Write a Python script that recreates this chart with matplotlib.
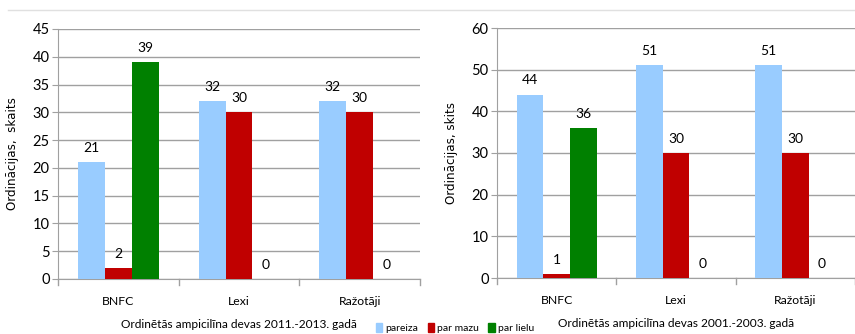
import matplotlib.pyplot as plt
from matplotlib.lines import Line2D
from matplotlib.patches import Patch
import numpy as np

categories = ["BNFC", "Lexi", "Ražotāji"]
series = ["pareiza", "par mazu", "par lielu"]
colors = ["#99CCFF", "#C00000", "#008000"]

vals_2011 = [[21, 32, 32], [2, 30, 30], [39, 0, 0]]
vals_2001 = [[44, 51, 51], [1, 30, 30], [36, 0, 0]]

xlabel_2011 = "Ordinētās ampicilīna devas 2011.-2013. gadā"
xlabel_2001 = "Ordinētās ampicilīna devas 2001.-2003. gadā"

plt.rcParams['font.family'] = ['Lato', 'DejaVu Sans']

fig = plt.figure(figsize=(8.55, 3.34), dpi=100)
ax1 = fig.add_axes([58/855, 55/334, 362/855, 250/334])
ax2 = fig.add_axes([497/855, 56/334, 358/855, 250/334])

grid_c = "#A0A0A0"
bw = 0.223

def draw(ax, vals, ymax, step, ylabel, xlabel):
    x = np.arange(len(categories))
    for i, (s, c) in enumerate(zip(series, colors)):
        pos = x + (i - 1) * bw
        ax.bar(pos, vals[i], bw, color=c, zorder=3, label=s)
        for p, v in zip(pos, vals[i]):
            ax.annotate(str(v), (p, v), xytext=(0, 6), textcoords="offset points",
                        ha="center", va="bottom", fontsize=10)
    ax.set_xlim(-0.5, len(categories) - 0.5)
    ax.set_ylim(0, ymax)
    ax.set_yticks(np.arange(0, ymax + 1, step))
    ax.yaxis.grid(True, color=grid_c, linewidth=1.0, zorder=0)
    ax.set_axisbelow(True)
    for s in ["top", "right"]:
        ax.spines[s].set_visible(False)
    for s in ["left", "bottom"]:
        ax.spines[s].set_color(grid_c)
    ax.set_xticks(x)
    ax.set_xticklabels(categories, fontsize=8.8)
    ax.tick_params(axis="x", length=0, pad=12)
    ax.tick_params(axis="y", length=4, color=grid_c, labelsize=10.5, pad=2)
    # category boundary ticks
    for b in np.arange(-0.5, len(categories), 1.0):
        ax.plot([b, b], [0, -0.025 * ymax], color=grid_c, lw=1, clip_on=False)
    ax.set_ylabel(ylabel, fontsize=8.6, family=["DejaVu Sans"], labelpad=10)
    ax.set_xlabel(xlabel, fontsize=8.6, labelpad=9)

draw(ax1, vals_2011, 45, 5, "Ordinācijas,  skaits", xlabel_2011)
draw(ax2, vals_2001, 60, 10, "Ordinācijas, skits", xlabel_2001)

fig.add_artist(Line2D([8/855, 1], [1 - 10/334] * 2, color="#E0E0E0", lw=1))

handles = [Patch(color=c) for c in colors]
fig.legend(handles, series, loc="center", bbox_to_anchor=(455/855, 1 - 328/334),
           ncol=3, frameon=False, fontsize=7.5, handlelength=0.6, handleheight=0.9,
           handletextpad=0.3, columnspacing=0.9, borderaxespad=0)

fig.savefig("out.png", dpi=100)
